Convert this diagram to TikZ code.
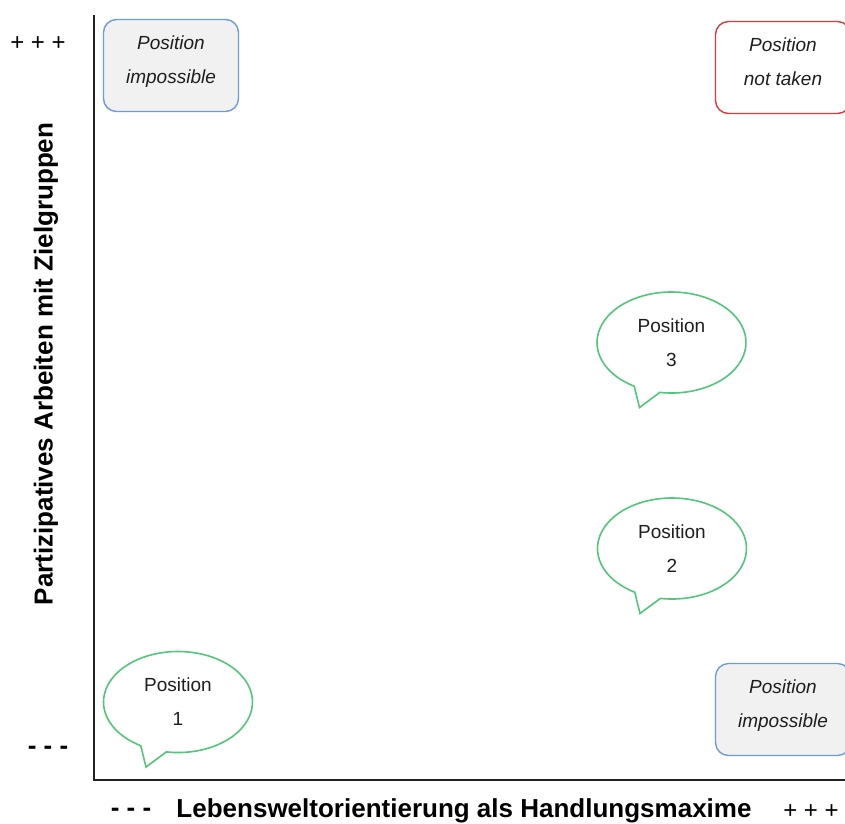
\documentclass[tikz,border=0pt]{standalone}
\usepackage{fontspec}
\setmainfont{Liberation Sans}
\usetikzlibrary{calc}

\definecolor{axisgray}{RGB}{34,34,34}
\definecolor{textgray}{RGB}{30,30,30}
\definecolor{boxblue}{RGB}{108,156,212}
\definecolor{boxfill}{RGB}{241,241,241}
\definecolor{boxred}{RGB}{214,58,58}
\definecolor{bubblegreen}{RGB}{82,198,124}

% speech bubble: #1 node name, #2 centre, #3 number
\newcommand\posbubble[3]{%
  \draw[bubble] ($(#2)+(261:74.5 and 50.5)$)
    arc[start angle=261, end angle=600, x radius=74.5, y radius=50.5]
    -- ($(#2)+(-32,-65)$) -- cycle;
  \node[bubbletext] (#1) at (#2) {Position\\#3};
}

\begin{document}
\begin{tikzpicture}[x=1pt,y=1pt,
  axis/.style={draw=axisgray, line width=1.6pt},
  posbox/.style={rounded corners=13pt, line width=1.4pt,
    minimum width=135pt, minimum height=92pt, align=center,
    font=\fontsize{19}{34}\selectfont\itshape, text=textgray},
  impossible/.style={posbox, draw=boxblue, fill=boxfill},
  nottaken/.style={posbox, draw=boxred, fill=white},
  bubble/.style={draw=bubblegreen, line width=1.6pt, fill=white},
  bubbletext/.style={align=center, font=\fontsize{19}{34}\selectfont, text=textgray},
  axislabel/.style={font=\fontsize{26}{30}\selectfont\bfseries, text=black},
  tickmark/.style={font=\fontsize{24}{28}\selectfont, text=black},
  tickminus/.style={font=\fontsize{26}{30}\selectfont\bfseries, text=black},
]
\clip (0,0) rectangle (845,-823);
\fill[white] (0,0) rectangle (845,-823);

% axes
\coordinate (ytop) at (94,-15);
\coordinate (origin) at (94,-780);
\coordinate (xend) at (846,-780);
\draw[axis] (ytop) -- (origin) -- (xend);

% axis labels and scale ends
\node[axislabel, rotate=90] (ylab) at (46,-364) {Partizipatives Arbeiten mit Zielgruppen};
\node[axislabel] (xlab) at (464,-811) {Lebensweltorientierung als Handlungsmaxime};
\node[tickmark] (yplus) at (38,-44) {+ + +};
\node[tickminus] (yminus) at (48,-750) {- - -};
\node[tickminus] (xminus) at (131,-812) {- - -};
\node[tickmark] (xplus) at (811,-812) {+ + +};

% corner boxes
\node[impossible] (imptl) at (171,-65.5) {Position\\impossible\rule[-12pt]{0pt}{0pt}};
\node[nottaken] (nottr) at (783,-67.5) {Position\\not taken\rule[-12pt]{0pt}{0pt}};
\node[impossible] (impbr) at (783,-709.5) {Position\\impossible\rule[-12pt]{0pt}{0pt}};

% positions
\posbubble{pos3}{671.5,-342.5}{3}
\posbubble{pos2}{672,-548.5}{2}
\posbubble{pos1}{178,-702}{1}
\end{tikzpicture}
\end{document}
